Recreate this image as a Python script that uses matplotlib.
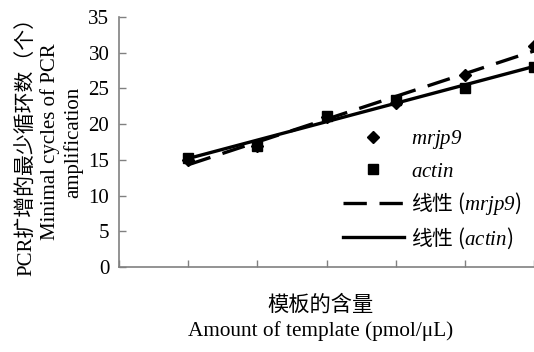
import numpy as np
import matplotlib
matplotlib.use('Agg')
import matplotlib.pyplot as plt

# data
x = [1, 2, 3, 4, 5, 6]
mrjp9 = [15.0, 16.9, 21.0, 23.0, 26.9, 30.9]
actin = [15.2, 17.0, 21.2, 23.4, 25.0, 28.0]
yticks = [0, 5, 10, 15, 20, 25, 30, 35]

plt.rcParams['font.family'] = ['Liberation Serif', 'Noto Sans CJK SC']
plt.rcParams['font.size'] = 15
plt.rcParams['mathtext.fontset'] = 'custom'
plt.rcParams['mathtext.it'] = 'Liberation Serif:italic'
plt.rcParams['mathtext.rm'] = 'Liberation Serif:italic'

fig = plt.figure(figsize=(5.34, 3.52), dpi=100, facecolor='white')
ax = fig.add_axes([0.223, 0.2415, 0.777, 0.7102])

# trend lines (linear fit over the data range)
xs = np.array([x[0], x[-1]])
k1, b1 = np.polyfit(x, mrjp9, 1)
k2, b2 = np.polyfit(x, actin, 1)

ax.plot(x, mrjp9, 'D', color='black', ms=6, label='$mrjp9$')
ax.plot(x, actin, 's', color='black', ms=7, label='$actin$')
ax.plot(xs, k1 * xs + b1, color='black', lw=2.4, ls=(0, (7, 3.8)),
        label='线性 ($mrjp9$)')
ax.plot(xs, k2 * xs + b2, color='black', lw=2.4, label='线性 ($actin$)')

ax.set_xlim(0, 6)
ax.set_ylim(0, 35)
ax.set_yticks(yticks)
ax.set_xticks(range(0, 7))
ax.set_xticklabels([])
ax.tick_params(direction='in', length=5, width=1, color='#808080')
ax.tick_params(axis='y', pad=7)
for s in ['top', 'right']:
    ax.spines[s].set_visible(False)
for s in ['left', 'bottom']:
    ax.spines[s].set_color('#808080')
    ax.spines[s].set_linewidth(1.2)

ax.set_ylabel('PCR扩增的最少循环数（个）\nMinimal cycles of PCR\namplification',
              labelpad=4, linespacing=1.2)
ax.set_xlabel('模板的含量\nAmount of template (pmol/μL)',
              linespacing=1.3, fontsize=15.3)
ax.xaxis.set_label_coords(0.485, -0.115, transform=ax.transAxes)
ax.xaxis.label.set_va('top')

leg = ax.legend(loc='upper left', bbox_to_anchor=(0.515, 0.6), frameon=False,
                borderpad=0, handlelength=2.9, handletextpad=0.35,
                labelspacing=0.4, prop={'family': 'Noto Sans CJK SC', 'size': 15})

fig.savefig('out.png', dpi=100)
